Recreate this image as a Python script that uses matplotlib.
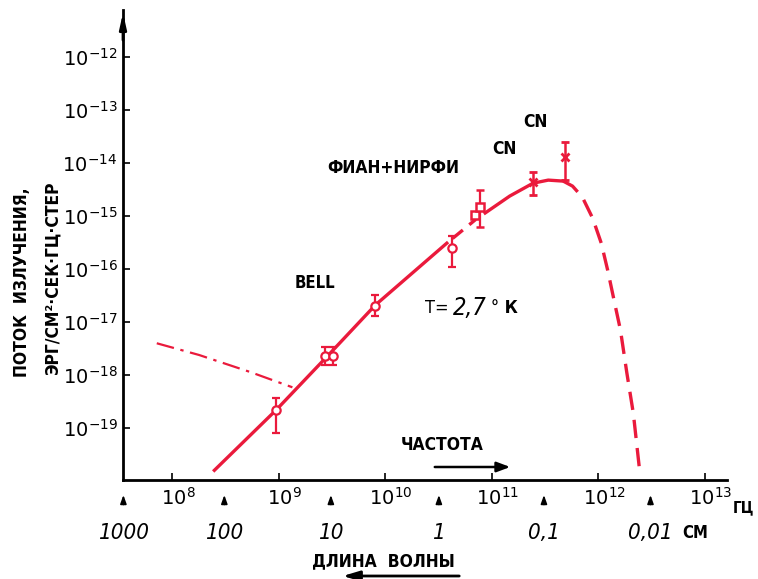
import matplotlib
matplotlib.use('Agg')
import matplotlib.pyplot as plt
import numpy as np
from matplotlib.transforms import ScaledTranslation
from matplotlib.ticker import NullLocator

# Спектр реликтового излучения, T = 2,7 K

# сплошная кривая до 4e10 Гц
solid1_nu = [2.5e8, 9.5e8, 3.0e9, 8.1e9, 3.8e10]
solid1_flux = [1.6e-20, 2.2e-19, 2.5e-18, 2.1e-17, 3.1e-16]
# короткий пунктир между 4e10 и 7e10
dash1_nu = [4.3e10, 7.1e10]
dash1_flux = [3.8e-16, 8.7e-16]
# сплошная кривая у максимума
solid2_nu = [8.7e10, 1.48e11, 2.45e11, 3.4e11, 4.7e11]
solid2_flux = [1.15e-15, 2.4e-15, 4.2e-15, 4.8e-15, 4.6e-15]
# пунктир - виновский спад
dash2_nu = [4.7e11, 5.75e11, 7.1e11, 8.9e11, 1.07e12, 1.23e12, 1.41e12,
            1.62e12, 1.86e12, 2.14e12, 2.45e12]
dash2_flux = [4.6e-15, 3.7e-15, 2.3e-15, 9.1e-16, 3.1e-16, 9.5e-17, 2.6e-17,
              7.1e-18, 1.1e-18, 1.9e-19, 1.6e-20]
# штрих-пунктир - галактический фон
gal_nu = [7.2e7, 1.8e8, 5.4e8, 1.35e9]
gal_flux = [4.0e-18, 2.4e-18, 1.15e-18, 5.9e-19]

# измерения (кружки)
circle_nu = [9.5e8, 2.73e9, 3.25e9, 8.05e9, 4.27e10]
circle_flux = [2.2e-19, 2.3e-18, 2.3e-18, 2.0e-17, 2.5e-16]
circle_lo = [8.1e-20, 1.55e-18, 1.55e-18, 1.29e-17, 1.10e-16]
circle_hi = [3.7e-19, 3.39e-18, 3.39e-18, 3.24e-17, 4.17e-16]
# ФИАН+НИРФИ (квадраты)
square_nu = [7.0e10, 7.8e10]
square_flux = [1.05e-15, 1.48e-15]
square_lo = [1.05e-15, 6.2e-16]
square_hi = [1.05e-15, 3.1e-15]
# CN
cn_nu = [2.45e11, 4.9e11]
cn_flux = [4.4e-15, 1.29e-14]
cn_lo = [2.5e-15, 4.8e-15]
cn_hi = [6.7e-15, 2.5e-14]

freq_ticks = [1e8, 1e9, 1e10, 1e11, 1e12, 1e13]
freq_labels = ['$10^{8}$', '$10^{9}$', '$10^{10}$', '$10^{11}$', '$10^{12}$', '$10^{13}$']
flux_ticks = [1e-19, 1e-18, 1e-17, 1e-16, 1e-15, 1e-14, 1e-13, 1e-12]
flux_labels = ['$10^{-19}$', '$10^{-18}$', '$10^{-17}$', '$10^{-16}$',
               '$10^{-15}$', '$10^{-14}$', '$10^{-13}$', '$10^{-12}$']
wave_nu = [3.5e7, 3.1e8, 3.1e9, 3.2e10, 3.1e11, 3.1e12]
wave_labels = ['1000', '100', '10', '1', '0,1', '0,01']

RED = '#ea1a3c'
W, H = 758, 579
BOLD = dict(family='DejaVu Sans', stretch='condensed', weight='bold', color='black')


def fx(x):
    return x / W


def fy(y):
    return 1 - y / H


fig = plt.figure(figsize=(W / 100, H / 100), dpi=100)
ax = fig.add_axes([fx(123), fy(480), (727 - 123) / W, (480 - 10) / H])
ax.set_xscale('log')
ax.set_yscale('log')
ax.set_xlim(3.47e7, 1.62e13)
ax.set_ylim(1.05e-20, 7.8e-12)
ax.spines['top'].set_visible(False)
ax.spines['right'].set_visible(False)
ax.spines['left'].set_linewidth(2)
ax.spines['bottom'].set_linewidth(2)
ax.xaxis.set_minor_locator(NullLocator())
ax.yaxis.set_minor_locator(NullLocator())

ax.set_xticks(freq_ticks)
ax.set_xticklabels(freq_labels)
ax.set_yticks(flux_ticks)
ax.set_yticklabels(flux_labels)
ax.tick_params(axis='both', direction='in', length=5, width=1.2, labelsize=14)
ax.tick_params(axis='x', pad=5)
ax.tick_params(axis='y', pad=4)
for lab in ax.get_xticklabels():
    lab.set_transform(lab.get_transform() + ScaledTranslation(0.06, 0, fig.dpi_scale_trans))

# стрелка оси Y
ax.annotate('', xy=(0, 1.0), xytext=(0, 0.93), xycoords='axes fraction',
            arrowprops=dict(arrowstyle='-|>,head_length=0.9,head_width=0.2',
                            color='black', lw=2), annotation_clip=False)

# кривые
ax.plot(solid1_nu, solid1_flux, color=RED, lw=2.4)
ax.plot(dash1_nu, dash1_flux, color=RED, lw=2.4, dashes=(4, 2.5))
ax.plot(solid2_nu, solid2_flux, color=RED, lw=2.4)
ax.plot(dash2_nu, dash2_flux, color=RED, lw=2.4, dashes=(5.5, 3))
ax.plot(gal_nu, gal_flux, color=RED, lw=1.6, dashes=(8, 3, 1.5, 3))

# точки с ошибками
def err(vals, lo, hi):
    v = np.array(vals)
    return [v - np.array(lo), np.array(hi) - v]

ax.errorbar(circle_nu, circle_flux, yerr=err(circle_flux, circle_lo, circle_hi),
            fmt='o', ms=6, mfc='white', mec=RED, mew=1.6, ecolor=RED,
            elinewidth=1.6, capsize=3, capthick=1.6, zorder=5)
ax.errorbar(square_nu, square_flux, yerr=err(square_flux, square_lo, square_hi),
            fmt='s', ms=6, mfc='white', mec=RED, mew=1.8, ecolor=RED,
            elinewidth=1.6, capsize=3, capthick=1.6, zorder=5)
ax.errorbar(cn_nu, cn_flux, yerr=err(cn_flux, cn_lo, cn_hi),
            fmt='x', ms=6, mec=RED, mew=2, ecolor=RED,
            elinewidth=1.8, capsize=3, capthick=1.8, zorder=5)

# длины волн под осью
tr = ax.get_xaxis_transform()
for nu, lab in zip(wave_nu, wave_labels):
    ax.annotate('', xy=(nu, -0.026), xytext=(nu, -0.058), xycoords=tr, textcoords=tr,
                arrowprops=dict(arrowstyle='-|>,head_length=0.5,head_width=0.18',
                                color='black', lw=1.2), annotation_clip=False)
    ax.text(nu, -0.113, lab, transform=tr, ha='center', va='center', fontsize=16,
            style='italic', family='DejaVu Sans', stretch='condensed')

# подписи
fig.text(fx(22), fy(282), 'ПОТОК  ИЗЛУЧЕНИЯ,', rotation=90, ha='center', va='center',
         fontsize=12.5, **BOLD)
fig.text(fx(52), fy(277), 'ЭРГ/СМ²·СЕК·ГЦ·СТЕР', rotation=90, ha='center', va='center',
         fontsize=12.5, **BOLD)
fig.text(fx(393), fy(168), 'ФИАН+НИРФИ', ha='center', va='center', fontsize=12.5, **BOLD)
fig.text(fx(504), fy(149), 'CN', ha='center', va='center', fontsize=12.5, **BOLD)
fig.text(fx(535), fy(122), 'CN', ha='center', va='center', fontsize=12.5, **BOLD)
fig.text(fx(315), fy(283), 'BELL', ha='center', va='center', fontsize=12, **BOLD)
fig.text(fx(425), fy(308), 'Т=', ha='left', va='center', fontsize=13,
         family='DejaVu Sans', stretch='condensed')
fig.text(fx(453), fy(308), '2,7', ha='left', va='center', fontsize=17, style='italic',
         family='DejaVu Sans', stretch='condensed')
fig.text(fx(491), fy(308), '° К', ha='left', va='center', fontsize=13, **BOLD)
fig.text(fx(442), fy(445), 'ЧАСТОТА', ha='center', va='center', fontsize=12.5, **BOLD)
fig.text(fx(383), fy(561), 'ДЛИНА  ВОЛНЫ', ha='center', va='center', fontsize=12.5, **BOLD)
fig.text(fx(744), fy(508), 'ГЦ', ha='center', va='center', fontsize=11, **BOLD)
fig.text(fx(695), fy(533), 'СМ', ha='center', va='center', fontsize=12, **BOLD)

# стрелки "частота" и "длина волны"
fig.add_artist(matplotlib.patches.FancyArrowPatch(
    (fx(432), fy(467)), (fx(513), fy(467)), transform=fig.transFigure,
    arrowstyle='-|>,head_length=8,head_width=3', color='black', lw=1.8))
fig.add_artist(matplotlib.patches.FancyArrowPatch(
    (fx(462), fy(576)), (fx(340), fy(576)), transform=fig.transFigure,
    arrowstyle='-|>,head_length=10,head_width=3', color='black', lw=2))

fig.savefig('out.png', dpi=100)
